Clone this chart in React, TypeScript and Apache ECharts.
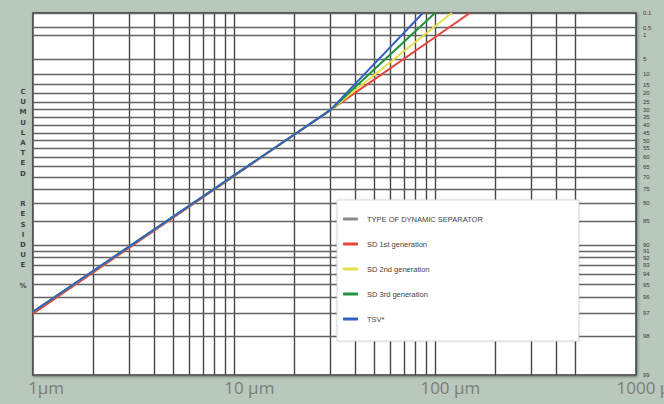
import React, { useEffect, useRef } from "react";
import * as echarts from "echarts";

// particle sizes (µm) where vertical grid lines are drawn
const sizeGrid = [2, 3, 4, 5, 6, 7, 8, 9, 10, 20, 30, 40, 50, 60, 70, 80, 90, 100, 200, 300, 400, 500];
// cumulated residue (%) where horizontal grid lines / right labels are drawn
const residueGrid = [0.1, 0.5, 1, 5, 10, 15, 20, 25, 30, 35, 40, 45, 50, 55, 60, 65, 70, 75, 80, 85, 90, 91, 92, 93, 94, 95, 96, 97, 98, 99];
// x tick labels
const xTicks = [1, 10, 100, 1000];

// series (size µm, residue %)
const legendTitle = "TYPE OF DYNAMIC SEPARATOR";
const sd1Sizes = [1, 30, 149];
const sd1Residue = [97.0, 30.4, 0.1];
const sd2Sizes = [1, 30, 121];
const sd2Residue = [96.9, 30.4, 0.1];
const sd3Sizes = [1, 30, 100];
const sd3Residue = [96.9, 30.4, 0.1];
const tsvSizes = [1, 30, 87];
const tsvResidue = [96.9, 30.4, 0.1];

// RRSB transform of residue R (%)
const rrsb = (r: number) => Math.log(Math.log(100 / r));

export default function App() {
  const ref = useRef<HTMLDivElement>(null);
  useEffect(() => {
    document.body.style.margin = "0";
    if (!ref.current) return;
    const chart = echarts.init(ref.current, undefined, { renderer: "svg" });

    const labelFont = '"Open Sans", sans-serif';
    const labelColor = "#7d7d7d";

    const mk = (sizes: number[], res: number[]) => sizes.map((s, i) => [s, rrsb(res[i])]);
    const lineSeries = (name: string, color: string, sizes: number[], res: number[]) => ({
      name,
      type: "line",
      data: mk(sizes, res),
      symbol: "none",
      z: 3,
      lineStyle: { color, width: 2 },
      itemStyle: { color },
    });

    const option: any = {
      animation: false,
      backgroundColor: "#b8c8bc",
      grid: {
        left: 33,
        right: 28,
        top: 13,
        bottom: 29,
        containLabel: false,
        outerBoundsMode: "none",
        show: true,
        backgroundColor: "#ffffff",
        borderColor: "#3a3a3a",
        borderWidth: 1.5,
        shadowColor: "rgba(0,0,0,0.35)",
        shadowBlur: 3,
        shadowOffsetX: 1,
        shadowOffsetY: 1,
      },
      xAxis: {
        type: "log",
        logBase: 10,
        min: 1,
        max: 1000,
        axisLine: { show: false },
        axisTick: { show: false },
        splitLine: { show: false },
        axisLabel: {
          showMinLabel: true,
          showMaxLabel: true,
          hideOverlap: false,
          margin: 4,
          formatter: (v: number) => {
            const t = xTicks.find((x) => Math.abs(x - v) < 1e-6 * x) ?? v;
            const unit = t === 1 ? "µm" : " µm";
            return `{p|${unit}}{n|${t}}{u|${unit}}`;
          },
          rich: {
            p: { fontSize: 17, fontFamily: labelFont, color: "rgba(0,0,0,0)" },
            n: { fontSize: 17, fontFamily: labelFont, color: labelColor },
            u: { fontSize: 17, fontFamily: labelFont, color: labelColor },
          },
        },
      },
      yAxis: {
        type: "value",
        min: rrsb(99),
        max: rrsb(0.1),
        axisLine: { show: false },
        axisTick: { show: false },
        axisLabel: { show: false },
        splitLine: { show: false },
        name: "C\nU\nM\nU\nL\nA\nT\nE\nD\n\n\nR\nE\nS\nI\nD\nU\nE\n\n%\n",
        nameLocation: "middle",
        nameRotate: 0,
        nameGap: 10,
        nameTextStyle: {
          fontSize: 7,
          fontWeight: "bold",
          lineHeight: 10.2,
          color: "#444",
          fontFamily: "DejaVu Sans, sans-serif",
          align: "center",
        },
      },
      legend: {
        data: [legendTitle, "SD 1st generation", "SD 2nd generation", "SD 3rd generation", "TSV*"],
        orient: "vertical",
        left: 337,
        top: 200,
        z: 10,
        itemWidth: 15,
        itemHeight: 3,
        itemGap: 17,
        icon: "roundRect",
        padding: [15, 96, 18, 6],
        backgroundColor: "#ffffff",
        borderColor: "#d8d8d8",
        borderWidth: 1,
        shadowColor: "rgba(0,0,0,0.15)",
        shadowBlur: 2,
        textStyle: {
          fontSize: 7.5,
          color: "#444",
          fontFamily: "Liberation Sans, sans-serif",
          padding: [0, 0, 0, 4],
        },
      },
      series: [
        {
          name: "gridlines",
          type: "line",
          data: [],
          z: 1,
          silent: true,
          markLine: {
            silent: true,
            z: 1,
            symbol: "none",
            animation: false,
            lineStyle: { color: "#454545", width: 1.4, type: "solid" },
            label: { show: false },
            data: [
              ...sizeGrid.map((s) => ({ xAxis: s })),
              ...residueGrid.map((r) => ({
                yAxis: rrsb(r),
                name: String(r),
                lineStyle: { color: "#626262", width: 1.3, type: "solid" },
                label: {
                  show: true,
                  position: "end",
                  formatter: "{b}",
                  distance: 7,
                  fontSize: 6,
                  color: "#3a3a3a",
                  fontFamily: "Liberation Sans, sans-serif",
                },
              })),
            ],
          },
        },
        {
          name: legendTitle,
          type: "line",
          data: [],
          symbol: "none",
          lineStyle: { color: "#8a8a8a", width: 1 },
          itemStyle: { color: "#8a8a8a" },
        },
        lineSeries("SD 1st generation", "#e8453c", sd1Sizes, sd1Residue),
        lineSeries("SD 2nd generation", "#e4df4c", sd2Sizes, sd2Residue),
        lineSeries("SD 3rd generation", "#1f9440", sd3Sizes, sd3Residue),
        lineSeries("TSV*", "#3562c0", tsvSizes, tsvResidue),
      ],
    };
    chart.setOption(option);
    return () => chart.dispose();
  }, []);
  return <div ref={ref} style={{ width: 664, height: 404 }} />;
}
